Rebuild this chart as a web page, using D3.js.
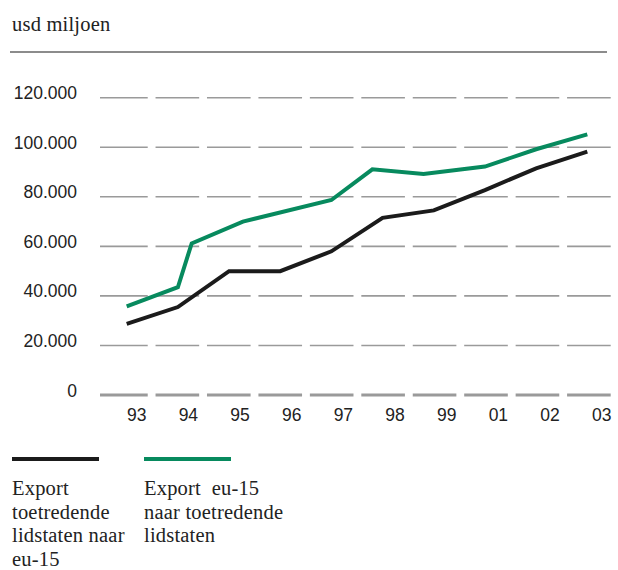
<!DOCTYPE html>
<html>
<head>
<meta charset="utf-8">
<script src="https://cdn.jsdelivr.net/npm/d3@7"></script>
<style>
  body { margin: 0; background: #fff; }
  .tick-label { font-family: "Liberation Sans", Arial, sans-serif; font-size: 17.5px; fill: #222; }
  .serif { font-family: "Liberation Serif", "DejaVu Serif", serif; fill: #222; letter-spacing: 0.2px; white-space: pre; }
</style>
</head>
<body>
<script>
// jaren op de x-as
const years = ["93", "94", "95", "96", "97", "98", "99", "01", "02", "03"]
const yTicks = [0, 20000, 40000, 60000, 80000, 100000, 120000]

// export toetredende lidstaten naar eu-15 (zwart)
const blackValues = [28700, 35500, 50000, 50000, 58000, 71500, 74500, 82700, 91500, 98200]

// export eu-15 naar toetredende lidstaten (groen), knikken liggen niet altijd op een jaar
const greenPos = [0, 1, 1.27, 2.27, 4, 4.8, 5.8, 7, 8, 9]
const greenValues = [35800, 43500, 61200, 70000, 78700, 91100, 89200, 92200, 99200, 105200]

const legendBlack = ["Export", "toetredende", "lidstaten naar", "eu-15"]
const legendGreen = ["Export  eu-15", "naar toetredende", "lidstaten"]

const green = "#078a5e"
const black = "#1b1b1b"

let svg = d3.select("body").append("svg")
    .attr("width", 618)
    .attr("height", 570)

// unit + rule
svg.append("text")
    .attr("class", "serif")
    .attr("x", 12)
    .attr("y", 31)
    .attr("font-size", 20.5)
    .text("usd miljoen")

svg.append("line")
    .attr("x1", 10).attr("x2", 607)
    .attr("y1", 52).attr("y2", 52)
    .attr("stroke", "#8c8c8c")
    .attr("stroke-width", 2)

let y = d3.scaleLinear().domain([0, 120000]).range([395, 97.7])
let x = d3.scaleLinear().domain([0, 9]).range([126.7, 587.3])
let xLabel = d3.scaleLinear().domain([0, 9]).range([136.7, 601.7])
let band = d3.scaleBand().domain(d3.range(years.length)).range([104.1, 610.7]).paddingInner(0.152)

let fmt = d3.formatLocale({ decimal: ",", thousands: ".", grouping: [3], currency: ["", ""] }).format(",d")

// dashed grid: one segment per year
yTicks.forEach(t => {
    svg.append("g").selectAll("line")
        .data(d3.range(years.length))
        .enter()
        .append("line")
        .attr("x1", i => i == 0 ? 100 : band(i))
        .attr("x2", i => band(i) + band.bandwidth())
        .attr("y1", y(t))
        .attr("y2", y(t))
        .attr("stroke", "#9a9a9a")
        .attr("stroke-width", t == 0 ? 3 : 1.6)
})

svg.selectAll(".ylab")
    .data(yTicks)
    .enter()
    .append("text")
    .attr("class", "tick-label ylab")
    .attr("x", 77)
    .attr("y", d => y(d) + 1.5)
    .attr("text-anchor", "end")
    .text(d => fmt(d))

svg.selectAll(".xlab")
    .data(years)
    .enter()
    .append("text")
    .attr("class", "tick-label xlab")
    .attr("x", (d, i) => xLabel(i))
    .attr("y", 421)
    .attr("text-anchor", "middle")
    .text(d => d)

let line = d3.line()
    .x(d => x(d[0]))
    .y(d => y(d[1]))

svg.append("path")
    .datum(greenPos.map((p, i) => [p, greenValues[i]]))
    .attr("d", line)
    .attr("fill", "none")
    .attr("stroke", green)
    .attr("stroke-width", 4)

svg.append("path")
    .datum(blackValues.map((v, i) => [i, v]))
    .attr("d", line)
    .attr("fill", "none")
    .attr("stroke", black)
    .attr("stroke-width", 4)

// legend
svg.append("line").attr("x1", 12).attr("x2", 99).attr("y1", 459).attr("y2", 459)
    .attr("stroke", black).attr("stroke-width", 4)
svg.append("line").attr("x1", 144).attr("x2", 231).attr("y1", 459).attr("y2", 459)
    .attr("stroke", green).attr("stroke-width", 4)

function legendText(lines, x0) {
    svg.append("g").selectAll("text")
        .data(lines)
        .enter()
        .append("text")
        .attr("class", "serif")
        .attr("font-size", 20.5)
        .attr("x", x0)
        .attr("y", (d, i) => 495 + i * 23.5)
        .text(d => d)
}
legendText(legendBlack, 12)
legendText(legendGreen, 144)
</script>
</body>
</html>
